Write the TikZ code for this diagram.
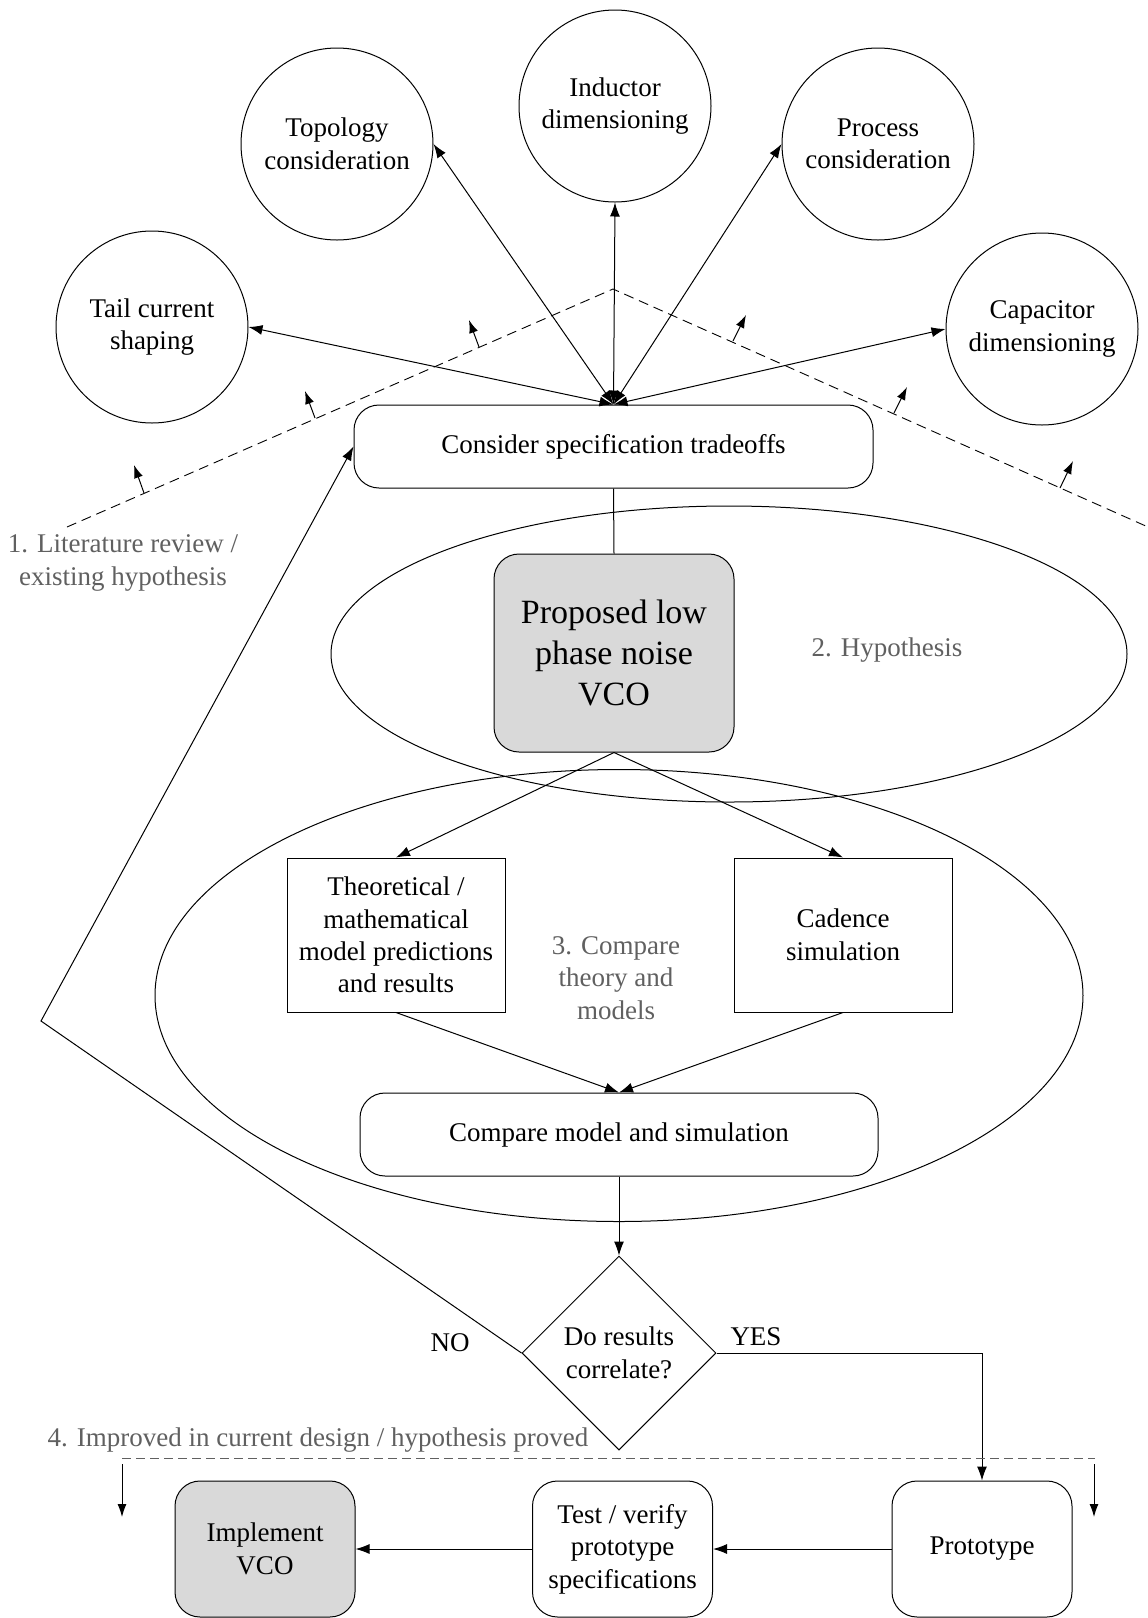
\documentclass[tikz,border=0pt]{standalone}
\usepackage{fontspec}
\setmainfont{Liberation Serif}
\usetikzlibrary{arrows.meta,shapes.geometric,calc}
\definecolor{notegray}{RGB}{96,96,96}
\definecolor{fillgray}{RGB}{217,217,217}

\begin{document}
\begin{tikzpicture}[x=1pt,y=-1pt,line width=1pt,
  every node/.style={font=\fontsize{27}{32.5}\selectfont,align=center,inner sep=0pt},
  tipend/.style={-{Latex[length=14pt,width=10pt]}},
  twoway/.style={{Latex[length=14pt,width=10pt]}-{Latex[length=14pt,width=10pt]}},
  smalltip/.style={-{Latex[length=13pt,width=9pt]}},
  topic/.style={circle,draw,minimum size=192pt},
  roundbox/.style={draw,rounded corners=25pt},
  plainbox/.style={draw,minimum width=218pt,minimum height=154pt},
  stagebox/.style={draw,rounded corners=25pt,minimum width=180pt,minimum height=136pt},
  region/.style={ellipse,draw},
  note/.style={text=notegray}]

\useasboundingbox (0,0) rectangle (1148,1618);

% grouping ellipses
\node[region,minimum width=796pt,minimum height=296pt] (hypregion) at (729,654) {};
\node[region,minimum width=928pt,minimum height=452pt] (cmpregion) at (619,995.5) {};

% design considerations
\node[topic] (tail) at (152,327) {Tail current\\shaping};
\node[topic] (topo) at (337,144) {Topology\\consideration};
\node[topic] (induct) at (615,106) {Inductor\\dimensioning};
\node[topic] (proc) at (878,144) {Process\\consideration};
\node[topic] (capac) at (1042,329) {Capacitor\\dimensioning};

% main flow
\node[roundbox,minimum width=519pt,minimum height=83pt] (spec) at (613.5,446.5) {Consider specification tradeoffs};
\node[roundbox,fill=fillgray,minimum width=240pt,minimum height=198pt,
      font=\fontsize{34}{41}\selectfont] (vco) at (614,653) {Proposed low\\phase noise\\VCO};
\node[plainbox] (theory) at (396,935) {Theoretical /\\mathematical\\model predictions\\and results};
\node[plainbox] (cadence) at (843,935) {Cadence\\simulation};
\node[roundbox,minimum width=518pt,minimum height=83pt] (compare) at (619,1134.5) {Compare model and simulation};
\node[diamond,draw,aspect=1,minimum width=194pt,minimum height=194pt] (decide) at (619,1353) {Do results\\correlate?};
\node[stagebox] (proto) at (982,1549) {Prototype};
\node[stagebox] (test) at (622.5,1549) {Test / verify\\prototype\\specifications};
\node[stagebox,fill=fillgray] (impl) at (265,1549) {Implement\\VCO};

% stage notes
\node[note] (note1) at (123,563) {1. Literature review /\\existing hypothesis};
\node[note] (note2) at (887,650) {2. Hypothesis};
\node[note] (note3) at (616,978) {3. Compare\\theory and\\models};
\node[note] (note4) at (318,1440) {4. Improved in current design / hypothesis proved};
\node (no) at (450,1343) {NO};
\node (yes) at (756,1337) {YES};

% connectors to the considerations
\draw[twoway] (spec.north) -- (tail.east);
\draw[twoway] (spec.north) -- (topo.east);
\draw[twoway] (spec.north) -- (induct.south);
\draw[twoway] (spec.north) -- (proc.west);
\draw[twoway] (spec.north) -- (capac.west);

% flow connectors
\draw (spec.south) -- (vco.north);
\draw[tipend] (vco.south) -- (theory.north);
\draw[tipend] (vco.south) -- (cadence.north);
\draw[tipend] (theory.south) -- (compare.north);
\draw[tipend] (cadence.south) -- (compare.north);
\draw[tipend] (compare.south) -- (decide.north);
\coordinate (loopbend) at (41,1021);
\draw[tipend] (decide.west) -- (loopbend) -- (spec.west);
\draw[tipend] (decide.east) -| (proto.north);
\draw[tipend] (proto.west) -- (test.east);
\draw[tipend] (test.west) -- (impl.east);

% literature boundary
\coordinate (litL) at (67,527);
\coordinate (litP) at (613,289);
\coordinate (litR) at (1148,527);
\draw[dashed,dash pattern=on 10pt off 6pt,line width=0.9pt] (litL) -- (litP) -- (litR);
\foreach \bx/\by/\tx/\ty in {144/493/134/465, 315/418/305/391, 479/347/469/320,
                              733/341/746/315, 894/413/907/387, 1060/488/1073/461}{
  \coordinate (ab) at (\bx,\by);
  \coordinate (at) at (\tx,\ty);
  \draw[smalltip] (ab) -- (at);
}

% implementation boundary
\coordinate (impL) at (122,1458);
\coordinate (impR) at (1095,1458);
\draw[notegray,dash pattern=on 9pt off 5pt] (impL) -- (impR);
\coordinate (dropLa) at (122,1464);
\coordinate (dropLb) at (122,1517);
\coordinate (dropRa) at (1094,1464);
\coordinate (dropRb) at (1094,1517);
\draw[smalltip] (dropLa) -- (dropLb);
\draw[smalltip] (dropRa) -- (dropRb);
\end{tikzpicture}
\end{document}
